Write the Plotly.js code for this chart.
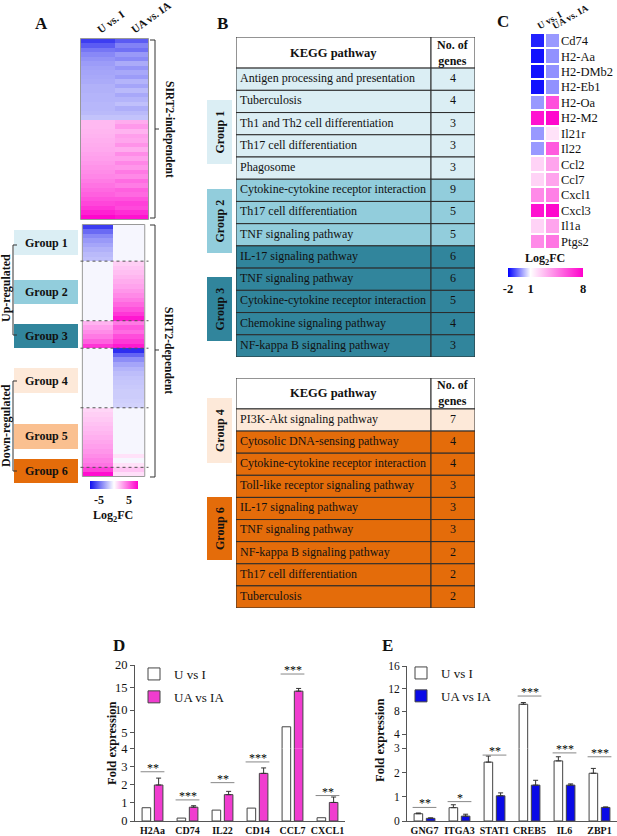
<!DOCTYPE html>
<html><head><meta charset="utf-8">
<script src="https://cdn.plot.ly/plotly-3.0.1.min.js"></script>
<style>html,body{margin:0;padding:0;background:#fff;}#chart{width:617px;height:836px;}</style>
</head><body><div id="chart"></div>
<script>
// ---------------- DATA ----------------
// Panel A heatmap
const heatCols = ['U vs. I', 'UA vs. IA'];
const indepUvsI = [-6.5,-5.5,-4.6,-4.0,-3.6,-3.3,-3.1,-3.0,-2.9,-2.8,-2.6,-2.6,-2.5,-2.5,-2.4,-2.4,-2.3,-2.0,
  2.2,2.2,2.3,2.4,2.5,2.6,2.7,2.9,3.0,3.2,3.4,3.6,3.8,4.1,4.4,4.7,5.0,5.4,5.8,6.3,7.0,7.8];
const indepUAvsIA = [-5.5,-4.2,-4.8,-3.4,-3.9,-2.8,-3.5,-2.9,-3.3,-2.5,-3.0,-2.3,-2.9,-2.5,-2.1,-2.7,-2.3,-2.0,
  2.6,3.2,2.4,3.0,2.8,3.4,2.6,3.6,3.0,3.8,3.3,4.2,3.7,4.6,4.1,5.0,4.7,5.4,6.0,5.7,6.6,7.4];
const depGroupSizes = [8, 13, 6, 13, 13, 2];
const depUvsI = [-6.5,-5.0,-4.0,-3.4,-3.0,-2.6,-2.3,-2.1,
  -0.3,-0.3,-0.3,-0.3,-0.3,-0.3,-0.3,-0.3,-0.3,-0.3,-0.3,-0.3,-0.3,
  2.4,3.0,3.6,4.2,5.0,6.4,
  -0.3,-0.3,-0.3,-0.3,-0.3,-0.3,-0.3,-0.3,-0.3,-0.3,-0.3,-0.3,-0.3,
  1.3,1.5,1.7,1.9,2.1,2.3,2.5,2.8,3.0,3.3,3.6,4.0,4.4,
  6.0,7.6];
const depUAvsIA = [-0.3,-0.3,-0.3,-0.3,-0.3,-0.3,-0.3,-0.3,
  1.5,1.8,2.0,2.3,2.6,2.9,3.3,3.7,4.2,4.8,5.5,6.3,7.3,
  4.2,5.2,4.6,5.6,6.2,7.2,
  -7.0,-5.2,-3.8,-3.0,-2.5,-2.2,-2.0,-1.9,-1.8,-1.7,-1.7,-1.6,-1.5,
  -0.3,-0.3,-0.3,-0.3,-0.3,-0.3,-0.3,-0.3,-0.3,-0.3,0.9,-0.3,0.9,
  1.8,1.0];
const groupNames = ['Group 1','Group 2','Group 3','Group 4','Group 5','Group 6'];
const aColorTicks = [-5, 5], aColorTickText = ['-5', '5'];

// Panel B tables
const kegg1Pathways = ['Antigen processing and presentation','Tuberculosis','Th1 and Th2 cell differentiation',
  'Th17 cell differentiation','Phagosome','Cytokine-cytokine receptor interaction','Th17 cell differentiation',
  'TNF signaling pathway','IL-17 signaling pathway','TNF signaling pathway','Cytokine-cytokine receptor interaction',
  'Chemokine signaling pathway','NF-kappa B signaling pathway'];
const kegg1Genes = [4,4,3,3,3,9,5,5,6,6,5,4,3];
const kegg1Group = [1,1,1,1,1,2,2,2,3,3,3,3,3];
const kegg2Pathways = ['PI3K-Akt signaling pathway','Cytosolic DNA-sensing pathway','Cytokine-cytokine receptor interaction',
  'Toll-like receptor signaling pathway','IL-17 signaling pathway','TNF signaling pathway','NF-kappa B signaling pathway',
  'Th17 cell differentiation','Tuberculosis'];
const kegg2Genes = [7,4,4,3,3,3,2,2,2];
const kegg2Group = [4,6,6,6,6,6,6,6,6];

// Panel C heatmap
const cGenes = ['Cd74','H2-Aa','H2-DMb2','H2-Eb1','H2-Oa','H2-M2','Il21r','Il22','Ccl2','Ccl7','Cxcl1','Cxcl3','Il1a','Ptgs2'];
const cUvsI = [-1.6,-1.8,-1.8,-1.8,-0.2,7.5,-0.2,-0.2,2.2,2.2,4.2,7.5,2.2,4.2];
const cUAvsIA = [-0.2,-0.3,-0.3,-0.3,5.8,7.8,1.8,5.5,3.5,3.5,4.5,7.8,3.5,4.8];
const cColorTicks = [-2, 1, 8], cColorTickText = ['-2', '1', '8'];

// Panel D
const seriesNames = ['U vs I', 'UA vs IA'];
const dGenes = ['H2Aa','CD74','IL22','CD14','CCL7','CXCL1'];
const dUvsI = [0.73,0.16,0.6,0.71,6.3,0.18];
const dUAvsIA = [1.98,0.76,1.45,2.62,14.2,1.02];
const dUAvsIAErr = [0.38,0.08,0.18,0.3,0.6,0.3];
const dSig = ['**','***','**','***','***','**'];
const dSigY = [2.71,1.16,2.11,3.25,18.0,1.4];

// Panel E
const eGenes = ['GNG7','ITGA3','STAT1','CREB5','IL6','ZBP1'];
const eUvsI = [0.3,0.55,2.43,9.25,2.48,1.97];
const eUvsIErr = [0.03,0.12,0.25,0.3,0.17,0.2];
const eUAvsIA = [0.11,0.2,1.04,1.48,1.48,0.56];
const eUAvsIAErr = [0.02,0.08,0.12,0.2,0.05,0.02];
const eSig = ['**','*','**','***','***','***'];
const eSigY = [0.56,0.8,2.72,10.7,2.81,2.65];

// ---------------- STYLE / HELPERS ----------------
const W = 617, H = 836;
const px = x => x / W, py = y => 1 - y / H;
const FONT = 'Liberation Serif';
const groupColors = {1:'#dbeef4',2:'#92cddc',3:'#31859c',4:'#fde9d9',5:'#fac090',6:'#e46c0a'};
const MAG = '#f03ccf', BLUE = '#0a0ae6';
const shapes = [], annotations = [];
const pathPx = pts => pts.map((p,i)=>(i?'L':'M')+px(p[0]).toFixed(5)+','+py(p[1]).toFixed(5)).join(' ');
const txt = (text, x, y, o={}) => annotations.push(Object.assign({text, x:px(x), y:py(y), xref:'paper', yref:'paper',
  showarrow:false, xanchor:'center', yanchor:'middle', font:{family:FONT, size:12, color:'#111'}}, o));
const boldFont = (s) => ({family:FONT, size:s, color:'#111', weight:'bold'});

// panel letters
[['A',42,23],['B',222,23],['C',503,22],['D',119,645],['E',387,645]].forEach(l=>txt(l[0],l[1],l[2],{font:boldFont(17)}));

// ---------------- PANEL A ----------------
const zTop = indepUvsI.map((v,i)=>[v, indepUAvsIA[i]]);
const zDep = depUvsI.map((v,i)=>[v, depUAvsIA[i]]);
const traces = [];
traces.push({type:'heatmap', x:heatCols, z:zTop, coloraxis:'coloraxis', xaxis:'x3', yaxis:'y5', hoverinfo:'skip'});
traces.push({type:'heatmap', x:heatCols, z:zDep, coloraxis:'coloraxis', xaxis:'x4', yaxis:'y6', hoverinfo:'skip'});
shapes.push({type:'rect', xref:'x3', yref:'y5', x0:-0.5, x1:1.5, y0:-0.5, y1:indepUvsI.length-0.5, line:{color:'#999', width:1}});
shapes.push({type:'rect', xref:'x4', yref:'y6', x0:-0.5, x1:1.5, y0:-0.5, y1:depUvsI.length-0.5, line:{color:'#999', width:1}});
let cum = 0;
depGroupSizes.slice(0,-1).forEach(s=>{ cum += s;
  shapes.push({type:'line', xref:'x4', yref:'y6', x0:-0.56, x1:1.62, y0:cum-0.5, y1:cum-0.5, line:{color:'#555', width:1, dash:'dot'}});
});
// brackets
const brk = {type:'path', xref:'paper', yref:'paper', line:{color:'#333', width:1}};
shapes.push(Object.assign({path:pathPx([[150,40],[155,40],[155,218],[150,218]])}, brk));
shapes.push(Object.assign({path:pathPx([[155,129],[159,129]])}, brk));
shapes.push(Object.assign({path:pathPx([[150,225],[155,225],[155,477],[150,477]])}, brk));
shapes.push(Object.assign({path:pathPx([[155,350],[159,350]])}, brk));
txt('SIRT2-independent', 169, 129, {textangle:90, font:boldFont(11.5)});
txt('SIRT2-dependent', 169, 350, {textangle:90, font:boldFont(11.5)});
// group label boxes (A)
const aBoxes = [[230,255],[280,304],[324,348],[368,393],[424,449],[459,483]];
aBoxes.forEach((b,i)=>{
  shapes.push({type:'rect', xref:'paper', yref:'paper', x0:px(14), x1:px(78), y0:py(b[1]), y1:py(b[0]), fillcolor:groupColors[i+1], line:{width:0}, layer:'below'});
  txt(groupNames[i], 46, (b[0]+b[1])/2, {font:boldFont(12)});
});
shapes.push(Object.assign({path:pathPx([[17,245],[13,245],[13,335],[17,335]])}, brk));
shapes.push(Object.assign({path:pathPx([[17,381],[13,381],[13,471],[17,471]])}, brk));
txt('Up-regulated', 6, 288, {textangle:-90, font:boldFont(12)});
txt('Down-regulated', 6, 426, {textangle:-90, font:boldFont(12)});
txt('Log<sub>2</sub>FC', 113, 516, {font:boldFont(12)});

// ---------------- PANEL B ----------------
function drawTable(xa, ya, paths, genes, groups) {
  const split = 0.816, hdr = 1.4;
  const base = {type:'rect', xref:xa, yref:ya, line:{color:'#2b2b2b', width:1}};
  shapes.push(Object.assign({x0:0, x1:split, y0:-hdr, y1:0, fillcolor:'#ffffff'}, base));
  shapes.push(Object.assign({x0:split, x1:1, y0:-hdr, y1:0, fillcolor:'#ffffff'}, base));
  annotations.push({text:'<b>KEGG pathway</b>', xref:xa, yref:ya, x:split/2, y:-hdr/2, showarrow:false, font:{family:FONT,size:12.5,color:'#111'}});
  annotations.push({text:'<b>No. of<br>genes</b>', xref:xa, yref:ya, x:(split+1)/2, y:-hdr/2, showarrow:false, font:{family:FONT,size:12,color:'#111'}});
  paths.forEach((p,i)=>{
    const c = groupColors[groups[i]];
    shapes.push(Object.assign({x0:0, x1:split, y0:i, y1:i+1, fillcolor:c}, base));
    shapes.push(Object.assign({x0:split, x1:1, y0:i, y1:i+1, fillcolor:c}, base));
    annotations.push({text:p, xref:xa, yref:ya, x:0.008, y:i+0.45, xanchor:'left', showarrow:false, font:{family:FONT,size:12,color:'#111'}});
    annotations.push({text:String(genes[i]), xref:xa, yref:ya, x:(split+1)/2, y:i+0.45, showarrow:false, font:{family:FONT,size:12,color:'#111'}});
  });
}
drawTable('x6','y8', kegg1Pathways, kegg1Genes, kegg1Group);
drawTable('x7','y9', kegg2Pathways, kegg2Genes, kegg2Group);
const bBoxes = [[1,100,164],[2,189,253],[3,277,341],[4,398,463],[6,497,560]];
bBoxes.forEach(b=>{
  shapes.push({type:'rect', xref:'paper', yref:'paper', x0:px(207), x1:px(232), y0:py(b[2]), y1:py(b[1]), fillcolor:groupColors[b[0]], line:{width:0}});
  txt(groupNames[b[0]-1], 219.5, (b[1]+b[2])/2, {textangle:-90, font:boldFont(12)});
});

// ---------------- PANEL C ----------------
traces.push({type:'heatmap', x:heatCols, y:cGenes, z:cUvsI.map((v,i)=>[v, cUAvsIA[i]]), coloraxis:'coloraxis2',
  xgap:2, ygap:2, xaxis:'x5', yaxis:'y7', hoverinfo:'skip'});
txt('Log<sub>2</sub>FC', 545, 259, {font:boldFont(12)});

// ---------------- PANELS D & E ----------------
function addBars(cats, series, xa, yLo, yHi, lim, legend) {
  series.forEach((s,k)=>{
    const common = {type:'bar', x:cats, name:seriesNames[k], xaxis:xa, legend:legend, legendgroup:legend+k,
      marker:{color:s.color, line:{color:'#444', width:1}}, hoverinfo:'skip'};
    const err = s.err ? {type:'data', symmetric:false, array:s.err, arrayminus:s.err.map(()=>0), color:'#333', thickness:1, width:2.5} : {visible:false};
    traces.push(Object.assign({}, common, {y:s.y, yaxis:yLo, error_y:err, showlegend:true}));
    traces.push(Object.assign({}, common, {y:s.y.map(v=>v>lim?v:null), yaxis:yHi, error_y:err, showlegend:false}));
  });
}
addBars(dGenes, [{y:dUvsI, color:'#ffffff'}, {y:dUAvsIA, err:dUAvsIAErr, color:MAG}], 'x', 'y', 'y2', 4, 'legend');
addBars(eGenes, [{y:eUvsI, err:eUvsIErr, color:'#ffffff'}, {y:eUAvsIA, err:eUAvsIAErr, color:BLUE}], 'x2', 'y3', 'y4', 3, 'legend2');

function addSig(sig, sigY, xa, yLo, yHi, lim) {
  sig.forEach((s,i)=>{
    const yr = sigY[i] > lim ? yHi : yLo;
    shapes.push({type:'line', xref:xa, yref:yr, x0:i-0.34, x1:i+0.34, y0:sigY[i], y1:sigY[i], line:{color:'#888', width:1}});
    annotations.push({text:s, xref:xa, yref:yr, x:i, y:sigY[i], yanchor:'bottom', yshift:-5, showarrow:false, font:{family:FONT, size:12, color:'#000'}});
  });
}
addSig(dSig, dSigY, 'x', 'y', 'y2', 4);
addSig(eSig, eSigY, 'x2', 'y3', 'y4', 3);
txt('Fold expression', 112, 743, {textangle:-90, font:boldFont(12.5)});
txt('Fold expression', 380, 740, {textangle:-90, font:boldFont(12.5)});

const hid = {visible:false, fixedrange:true, showgrid:false, zeroline:false};
const yAx = (dom, rng, anchor, vals, fs) => ({domain:dom, range:rng, anchor, tickvals:vals, showline:true, linecolor:'#555', linewidth:1,
  ticks:'outside', ticklen:4, tickcolor:'#555', tickfont:{family:FONT, size:fs, color:'#111'}, showgrid:false, zeroline:false, fixedrange:true});
const xAx = (dom, anchor) => ({domain:dom, anchor, type:'category', showline:true, linecolor:'#555', linewidth:1, ticks:'',
  tickfont:{family:FONT, size:10, color:'#111', weight:'bold'}, showgrid:false, zeroline:false, fixedrange:true});

const layout = {
  width:W, height:H, margin:{l:0,r:0,t:0,b:0}, paper_bgcolor:'#fff', plot_bgcolor:'rgba(0,0,0,0)',
  font:{family:FONT, size:12, color:'#111'},
  barmode:'group', bargap:0.3, bargroupgap:0.3,
  legend:{x:px(134), y:py(659), xanchor:'left', yanchor:'top', bgcolor:'rgba(0,0,0,0)', font:{family:FONT,size:13,color:'#111'}, tracegroupgap:3},
  legend2:{x:px(401), y:py(658), xanchor:'left', yanchor:'top', bgcolor:'rgba(0,0,0,0)', font:{family:FONT,size:13,color:'#111'}, tracegroupgap:3},
  coloraxis:{cmin:-8, cmax:8, colorscale:[[0,'#1010ee'],[0.5,'#ffffff'],[1,'#ff00cc']],
    colorbar:{orientation:'h', x:px(114), xanchor:'center', y:py(481), yanchor:'top', len:48, lenmode:'pixels', thickness:8,
      tickvals:aColorTicks, ticktext:aColorTickText, ticks:'', tickfont:boldFont(12), outlinewidth:0, xpad:0, ypad:0}},
  coloraxis2:{cmin:-2, cmax:8, colorscale:[[0,'#0000ff'],[0.3,'#ffffff'],[1,'#ff00cc']],
    colorbar:{orientation:'h', x:px(545.5), xanchor:'center', y:py(268), yanchor:'top', len:75, lenmode:'pixels', thickness:9,
      tickvals:cColorTicks, ticktext:cColorTickText, ticks:'', tickfont:boldFont(12.5), outlinewidth:0, xpad:0, ypad:0}},
  // D
  xaxis: xAx([px(135), px(345)], 'y'),
  yaxis: yAx([py(821), py(748.3)], [0,4], 'x', [0,1,2,3,4], 12.5),
  yaxis2: yAx([py(748.3), py(665)], [1.53,20], 'x', [5,10,15,20], 12.5),
  // E
  xaxis2: xAx([px(407), px(617)], 'y3'),
  yaxis3: yAx([py(821), py(748.3)], [0,3], 'x2', [0,1,2,3], 11.5),
  yaxis4: yAx([py(748.3), py(666)], [1.48,16], 'x2', [4,8,12,16], 11.5),
  // A heatmaps
  xaxis3: {domain:[px(80), px(149)], anchor:'y5', side:'top', tickangle:-36, ticks:'', showline:false, showgrid:false, zeroline:false,
    tickfont:boldFont(11), fixedrange:true},
  yaxis5: Object.assign({domain:[py(220), py(38)], anchor:'x3', autorange:'reversed'}, hid),
  xaxis4: Object.assign({domain:[px(80), px(149)], anchor:'y6'}, hid),
  yaxis6: Object.assign({domain:[py(477), py(224)], anchor:'x4', autorange:'reversed'}, hid),
  // C heatmap
  xaxis5: {domain:[px(530), px(560)], anchor:'y7', side:'top', tickangle:-30, ticks:'', showline:false, showgrid:false, zeroline:false,
    tickfont:boldFont(9.5), fixedrange:true},
  yaxis7: {domain:[py(249), py(33)], anchor:'x5', side:'right', autorange:'reversed', ticks:'', showline:false, showgrid:false,
    zeroline:false, tickfont:{family:FONT, size:12.5, color:'#111'}, fixedrange:true},
  // tables
  xaxis6: Object.assign({domain:[px(236), px(475)], range:[0,1], anchor:'y8'}, hid),
  yaxis8: Object.assign({domain:[py(357), py(37)], range:[kegg1Pathways.length, -1.4], anchor:'x6'}, hid),
  xaxis7: Object.assign({domain:[px(236), px(475)], range:[0,1], anchor:'y9'}, hid),
  yaxis9: Object.assign({domain:[py(608), py(378)], range:[kegg2Pathways.length, -1.4], anchor:'x7'}, hid),
  shapes, annotations
};
Plotly.newPlot('chart', traces, layout, {staticPlot:true, displayModeBar:false});
</script></body></html>
